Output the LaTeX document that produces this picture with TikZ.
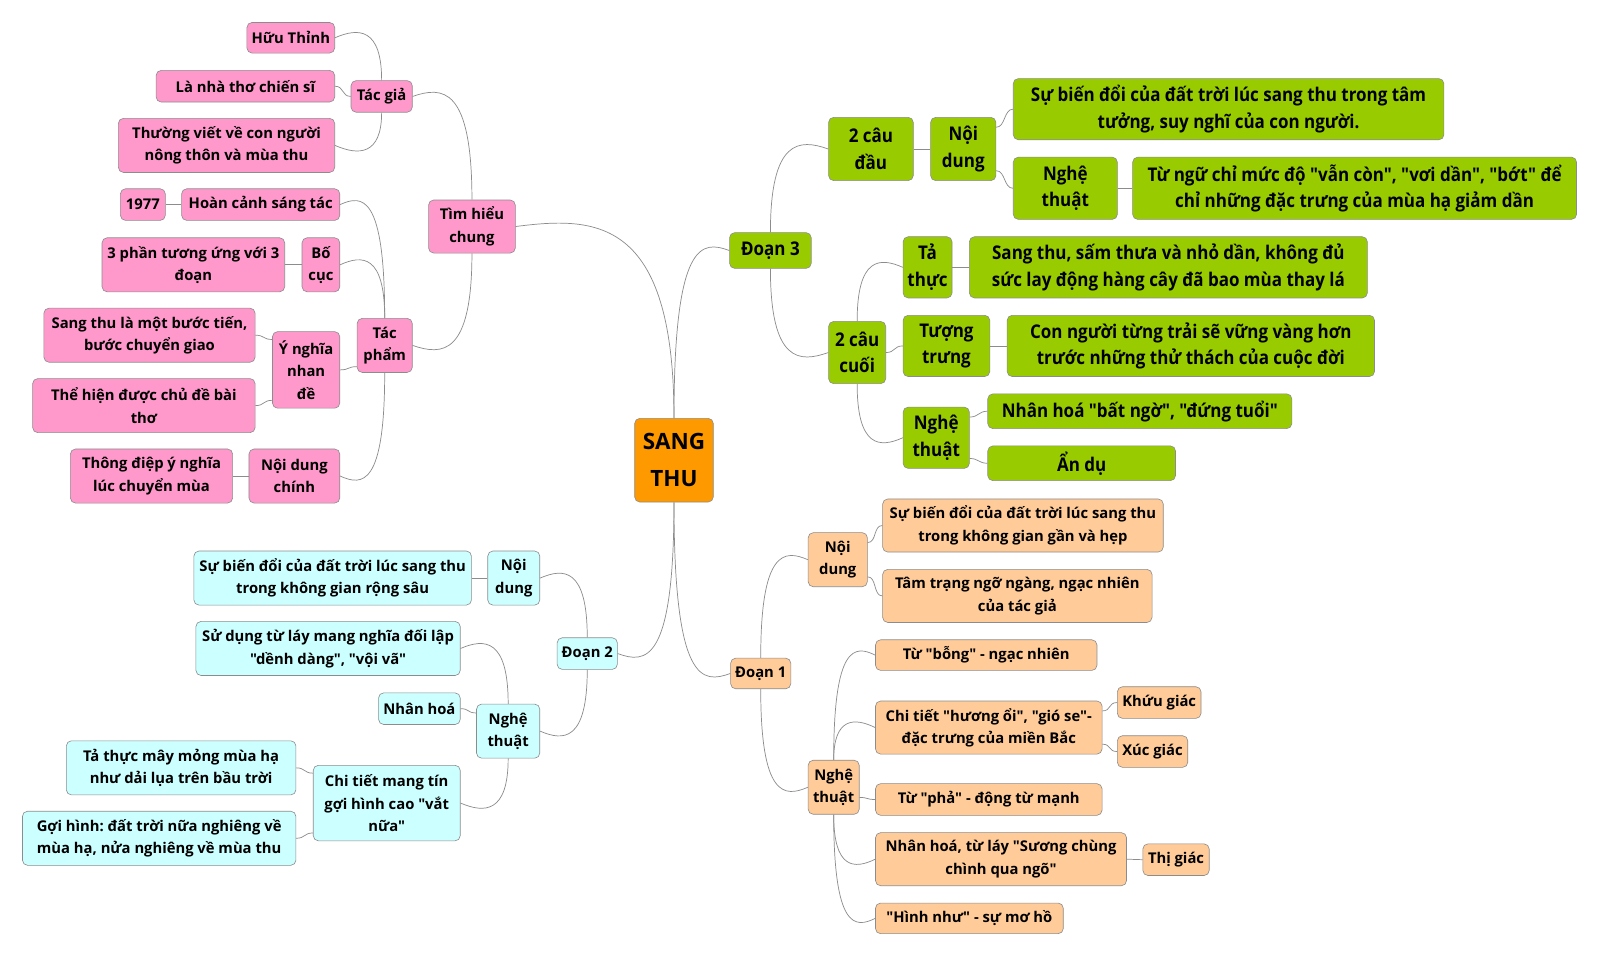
\documentclass[tikz,border=0pt]{standalone}
\usepackage{fontspec}
\newfontfamily\mainf{Open Sans}
\newfontfamily\condf{Open Sans}[FakeStretch=0.9]
\frenchspacing
\usetikzlibrary{calc}
\definecolor{mpink}{HTML}{FF99CC}
\definecolor{mcyan}{HTML}{CCFFFF}
\definecolor{mgreen}{HTML}{99CC00}
\definecolor{morange}{HTML}{FFCC99}
\definecolor{mcenter}{HTML}{FF9900}
\definecolor{mline}{HTML}{8C8C8C}
\newcommand\normf{\mainf\bfseries\fontsize{14.5}{22}\selectfont}
\newcommand\grf{\condf\bfseries\fontsize{18.5}{26}\selectfont}
\newcommand\vconn[3]{\draw[conn] let \p1=(#1), \p2=(#2) in (\p1) .. controls (\x1,\y2+#3pt) and ({0.5*\x1+0.5*\x2},\y2+#3pt) .. (\p2);}
\newcommand\sconR[2]{\draw[conn] (#1) .. controls +(9,0) and +(-9,0) .. (#2);}
\newcommand\sconL[2]{\draw[conn] (#1) .. controls +(-9,0) and +(9,0) .. (#2);}
\begin{document}
\begin{tikzpicture}[x=1pt,y=1pt,
  nbox/.style={draw=black!45, line width=0.6pt, rounded corners=5pt, align=center, inner sep=1pt, text=black},
  sz/.style 2 args={minimum width=#1pt, minimum height=#2pt},
  pkb/.style={nbox, fill=mpink, font=\normf},
  cyb/.style={nbox, fill=mcyan, font=\normf},
  orb/.style={nbox, fill=morange, font=\normf},
  grb/.style={nbox, fill=mgreen, font=\grf},
  conn/.style={draw=mline, line width=0.7pt}]
\fill[white] (0,0) rectangle (1568,-939);
\useasboundingbox (0,0) rectangle (1568,-939);

% center
\node[nbox, fill=mcenter, sz={77}{82}, font=\mainf\bfseries\fontsize{22}{36}\selectfont] (st) at (660.5,-451) {SANG\\THU};

% pink
\node[pkb, sz={85}{52}] (tim) at (462.5,-222) {Tìm hiểu\\chung};
\node[pkb, sz={60}{31}] (tg) at (374,-94.5) {Tác giả};
\node[pkb, sz={86}{30}] (huu) at (285,-37) {Hữu Thỉnh};
\node[pkb, sz={175}{31}] (la) at (240.5,-84.5) {Là nhà thơ chiến sĩ};
\node[pkb, sz={212}{53}] (thuong) at (222,-142.5) {Thường viết về con người\\nông thôn và mùa thu};
\node[pkb, sz={54}{53}] (tp) at (377,-338.5) {Tác\\phẩm};
\node[pkb, sz={155}{31}] (hoan) at (255.5,-200.5) {Hoàn cảnh sáng tác};
\node[pkb, sz={44}{31}] (nam) at (140,-200.5) {1977};
\node[pkb, sz={37}{53}] (bc) at (314.5,-259.5) {Bố\\cục};
\node[pkb, sz={179}{53}] (bp) at (189.5,-259.5) {3 phần tương ứng với 3\\đoạn};
\node[pkb, sz={66}{75}] (yn) at (300,-362.5) {Ý nghĩa\\nhan\\đề};
\node[pkb, sz={207}{53}] (sb) at (146.5,-328.5) {Sang thu là một bước tiến,\\bước chuyển giao};
\node[pkb, sz={218}{53}] (th) at (141,-397.5) {Thể hiện được chủ đề bài\\thơ};
\node[pkb, sz={89}{53}] (ndc) at (288.5,-466.5) {Nội dung\\chính};
\node[pkb, sz={159}{53}] (td) at (148.5,-466.5) {Thông điệp ý nghĩa\\lúc chuyển mùa};

% cyan
\node[cyb, sz={59}{31}] (d2) at (575.5,-640.5) {Đoạn 2};
\node[cyb, sz={51}{53}] (nd2) at (503.5,-566.5) {Nội\\dung};
\node[cyb, sz={272}{53}] (sbd2) at (326,-566.5) {Sự biến đổi của đất trời lúc sang thu\\trong không gian rộng sâu};
\node[cyb, sz={62}{53}] (nt2) at (498,-716.5) {Nghệ\\thuật};
\node[cyb, sz={259}{53}] (sd) at (321.5,-635.5) {Sử dụng từ láy mang nghĩa đối lập\\"dềnh dàng", "vội vã"};
\node[cyb, sz={80}{31}] (nh2) at (411,-694.5) {Nhân hoá};
\node[cyb, sz={144}{74}] (ct2) at (379,-787) {Chi tiết mang tín\\gợi hình cao "vắt\\nữa"};
\node[cyb, sz={225}{53}] (tt2) at (177.5,-752.5) {Tả thực mây mỏng mùa hạ\\như dải lụa trên bầu trời};
\node[cyb, sz={268}{53}] (gh) at (156,-821.5) {Gợi hình: đất trời nữa nghiêng về\\mùa hạ, nửa nghiêng về mùa thu};

% green
\node[grb, sz={80}{35}] (d3) at (755,-245.5) {Đoạn 3};
\node[grb, sz={83}{62}] (cd) at (853.5,-146) {2 câu\\đầu};
\node[grb, sz={64}{62}] (nd3) at (944,-146) {Nội\\dung};
\node[grb, sz={422}{60}] (sbd3) at (1204,-107) {Sự biến đổi của đất trời lúc sang thu trong tâm\\tưởng, suy nghĩ của con người.};
\node[grb, sz={102}{61}] (nt3a) at (1044,-184.5) {Nghệ\\thuật};
\node[grb, sz={435}{61}] (tn) at (1327.5,-184.5) {Từ ngữ chỉ mức độ "vẫn còn", "vơi dần", "bớt" để\\chỉ những đặc trưng của mùa hạ giảm dần};
\node[grb, sz={56}{61}] (cc) at (840,-345.5) {2 câu\\cuối};
\node[grb, sz={48}{60}] (tt3) at (909,-262) {Tả\\thực};
\node[grb, sz={390}{60}] (st3) at (1145,-262) {Sang thu, sấm thưa và nhỏ dần, không đủ\\sức lay động hàng cây đã bao mùa thay lá};
\node[grb, sz={85}{60}] (tg3) at (927.5,-339) {Tượng\\trưng};
\node[grb, sz={360}{60}] (cn3) at (1167,-339) {Con người từng trải sẽ vững vàng hơn\\trước những thử thách của cuộc đời};
\node[grb, sz={65}{60}] (nt3b) at (917.5,-429) {Nghệ\\thuật};
\node[grb, sz={298}{34}] (nh3) at (1117,-403) {Nhân hoá "bất ngờ", "đứng tuổi"};
\node[grb, sz={184}{34}] (ad) at (1060,-454) {Ẩn dụ};

% orange
\node[orb, sz={59}{30}] (d1) at (745.5,-660) {Đoạn 1};
\node[orb, sz={58}{53}] (nd1) at (821,-548.5) {Nội\\dung};
\node[orb, sz={275}{52}] (sbd1) at (1002.5,-515) {Sự biến đổi của đất trời lúc sang thu\\trong không gian gần và hẹp};
\node[orb, sz={264}{52}] (tt1) at (997,-584) {Tâm trạng ngỡ ngàng, ngạc nhiên\\của tác giả};
\node[orb, sz={50}{53}] (nt1) at (817,-771.5) {Nghệ\\thuật};
\node[orb, sz={217}{30}] (bong) at (966.5,-642) {Từ "bỗng" - ngạc nhiên};
\node[orb, sz={222}{52}] (ho) at (969,-713) {Chi tiết "hương ổi", "gió se"-\\đặc trưng của miền Bắc};
\node[orb, sz={82}{31}] (kg) at (1136,-688.5) {Khứu giác};
\node[orb, sz={69}{31}] (xg) at (1129.5,-736.5) {Xúc giác};
\node[orb, sz={222}{31}] (pha) at (969,-783.5) {Từ "phả" - động từ mạnh};
\node[orb, sz={246}{52}] (sc) at (981,-842) {Nhân hoá, từ láy "Sương chùng\\chình qua ngõ"};
\node[orb, sz={65}{31}] (tg1) at (1152.5,-842.5) {Thị giác};
\node[orb, sz={184}{30}] (hn) at (950,-900) {"Hình như" - sự mơ hồ};

% connectors: center
\vconn{st.north}{tim.east}{10}
\vconn{st.north}{d3.west}{10}
\vconn{st.south}{d2.east}{-10}
\vconn{st.south}{d1.west}{-10}
% Tim hieu chung
\vconn{tim.north}{tg.east}{10}
\vconn{tim.south}{tp.east}{-10}
\vconn{tg.north}{huu.east}{10}
\sconL{tg.west}{la.east}
\vconn{tg.south}{thuong.east}{-10}
\vconn{tp.north}{hoan.east}{10}
\vconn{tp.north}{bc.east}{10}
\sconL{$(tp.south west)+(0,6)$}{yn.east}
\vconn{tp.south}{ndc.east}{-10}
\draw[conn] (hoan.west) -- (nam.east);
\draw[conn] (bc.west) -- (bp.east);
\sconL{$(yn.north west)+(0,-8)$}{sb.east}
\sconL{$(yn.south west)+(0,8)$}{th.east}
\draw[conn] (ndc.west) -- (td.east);
% Doan 2
\vconn{d2.north}{nd2.east}{10}
\vconn{d2.south}{nt2.east}{-10}
\draw[conn] (nd2.west) -- (sbd2.east);
\vconn{nt2.north}{sd.east}{10}
\sconL{$(nt2.north west)+(0,-9)$}{nh2.east}
\vconn{nt2.south}{ct2.east}{-10}
\sconL{$(ct2.north west)+(0,-8)$}{tt2.east}
\sconL{$(ct2.south west)+(0,8)$}{gh.east}
% Doan 3
\vconn{d3.north}{cd.west}{10}
\vconn{d3.south}{cc.west}{-10}
\draw[conn] (cd.east) -- (nd3.west);
\sconR{$(nd3.north east)+(0,-10)$}{sbd3.west}
\sconR{$(nd3.south east)+(0,10)$}{nt3a.west}
\draw[conn] (nt3a.east) -- (tn.west);
\vconn{cc.north}{tt3.west}{10}
\sconR{cc.east}{tg3.west}
\vconn{cc.south}{nt3b.west}{-10}
\draw[conn] (tt3.east) -- (st3.west);
\draw[conn] (tg3.east) -- (cn3.west);
\sconR{$(nt3b.north east)+(0,-10)$}{nh3.west}
\sconR{$(nt3b.south east)+(0,10)$}{ad.west}
% Doan 1
\vconn{d1.north}{nd1.west}{10}
\vconn{d1.south}{nt1.west}{-10}
\sconR{$(nd1.north east)+(0,-10)$}{sbd1.west}
\sconR{$(nd1.south east)+(0,10)$}{tt1.west}
\vconn{nt1.north}{bong.west}{10}
\vconn{nt1.north}{ho.west}{10}
\sconR{$(nt1.east)+(0,-10)$}{pha.west}
\vconn{nt1.south}{sc.west}{-10}
\vconn{nt1.south}{hn.west}{-10}
\sconR{$(ho.north east)+(0,-10)$}{kg.west}
\sconR{$(ho.south east)+(0,10)$}{xg.west}
\draw[conn] (sc.east) -- (tg1.west);
\end{tikzpicture}
\end{document}
